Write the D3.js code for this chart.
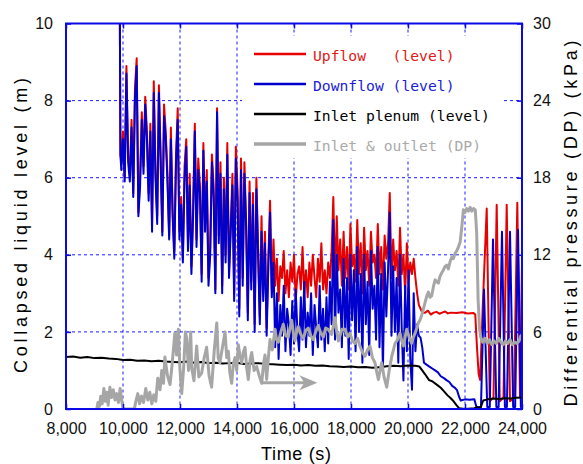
<!DOCTYPE html>
<html>
<head>
<meta charset="utf-8">
<script src="https://cdn.jsdelivr.net/npm/d3@7"></script>
<style>
  body { margin: 0; background: #fff; }
  text { font-family: "Liberation Sans", Arial, sans-serif; }
</style>
</head>
<body>
<svg id="chart" width="583" height="464"></svg>
<script>
// ---- data (time in s, level in m, DP in kPa) ----
const xTicks = [8000, 10000, 12000, 14000, 16000, 18000, 20000, 22000, 24000];
const levelTicks = [0, 2, 4, 6, 8, 10];
const dpTicks = [0, 6, 12, 18, 24, 30];

// oscillating part of the two level signals, sampled every 60 s from 9940 s
const noisyStart = 9940, noisyStep = 60;
const upflowNoisy = [
  6.4, 7.2, 6.0, 8.9, 6.6, 6.1, 7.5, 5.6, 8.3, 9.1,
  5.1, 6.0, 7.7, 6.3, 8.1, 7.2, 5.6, 7.4, 4.8, 8.5,
  6.2, 5.0, 8.4, 6.6, 4.6, 7.9, 7.2, 6.1, 4.5, 7.3,
  5.2, 4.1, 6.6, 7.8, 4.6, 5.5, 3.9, 6.3, 7.0, 4.3,
  6.1, 3.7, 5.2, 7.4, 4.4, 6.5, 5.8, 3.5, 6.9, 4.8,
  6.2, 3.4, 4.2, 6.6, 5.8, 3.1, 7.8, 4.5, 6.4, 3.2,
  6.0, 4.0, 6.9, 3.6, 4.8, 6.1, 3.0, 6.8, 5.7, 2.6,
  6.5, 3.4, 6.4, 4.9, 2.5, 5.9, 3.3, 5.6, 2.2, 6.0,
  4.2, 2.4, 5.0, 3.0, 4.6, 2.1, 3.9, 5.4, 3.1, 4.4,
  3.2, 3.9, 2.8, 3.7, 3.4, 4.1, 3.0, 3.6, 2.9, 3.8,
  3.3, 4.0, 2.8, 3.5, 3.7, 3.1, 4.2, 3.0, 3.6, 2.9,
  3.8, 3.2, 4.0, 3.4, 2.9, 3.9, 3.3, 4.3, 3.1, 3.6,
  3.0, 3.8, 3.4, 4.1, 5.5, 3.3, 5.0, 3.6, 4.4, 3.2,
  4.6, 3.4, 4.2, 3.1, 4.8, 3.7, 4.0, 3.3, 4.9, 3.5,
  4.3, 3.0, 4.7, 3.6, 4.1, 3.2, 4.6, 3.8, 4.0, 3.4,
  4.8, 3.5, 4.2, 3.1, 4.5, 3.9, 4.3, 5.6, 3.4, 4.4,
  3.6, 4.1, 3.2, 4.7, 3.5, 4.0, 3.0, 4.3, 3.3, 3.8,
  3.5, 3.9, 3.4, 3.0, 2.7
];
const downflowNoisy = [
  6.2, 7.0, 5.9, 8.7, 6.4, 5.9, 7.3, 5.5, 8.1, 8.9,
  5.0, 5.8, 7.5, 6.1, 7.9, 7.0, 5.4, 7.2, 4.6, 8.2,
  6.0, 4.8, 8.2, 6.4, 4.5, 7.6, 7.0, 5.9, 4.4, 7.0,
  5.0, 3.9, 6.4, 7.5, 4.4, 5.3, 3.8, 6.0, 6.8, 4.1,
  5.8, 3.5, 5.0, 7.2, 4.2, 6.2, 5.6, 3.3, 6.7, 4.6,
  5.9, 3.2, 4.0, 6.4, 5.5, 3.0, 7.7, 4.3, 6.1, 3.0,
  5.7, 3.8, 6.6, 3.4, 4.6, 5.8, 2.8, 6.5, 5.4, 2.4,
  6.2, 3.2, 6.1, 4.7, 2.3, 5.6, 3.1, 5.3, 2.0, 5.7,
  4.0, 2.2, 4.6, 2.8, 4.3, 1.9, 3.7, 5.1, 2.9, 3.8,
  1.6, 3.0, 1.3, 2.7, 1.9, 3.2, 1.5, 2.6, 2.2, 1.4,
  2.8, 1.7, 3.1, 2.0, 1.5, 2.9, 1.8, 3.3, 1.6, 2.5,
  1.9, 3.0, 1.4, 2.7, 2.1, 1.6, 3.2, 1.8, 2.6, 1.5,
  2.9, 1.7, 3.3, 2.2, 4.9, 1.8, 4.0, 2.5, 3.1, 1.6,
  3.9, 1.9, 3.4, 1.3, 4.0, 2.3, 3.6, 1.5, 4.2, 2.0,
  3.5, 1.2, 4.0, 2.2, 3.3, 1.4, 4.1, 2.6, 3.2, 1.8,
  4.2, 1.6, 3.5, 1.0, 3.8, 2.4, 3.6, 5.1, 1.9, 3.7,
  2.0, 3.4, 1.2, 4.0, 2.1, 0.74, 3.2, 1.5, 3.6, 1.3,
  0.5, 3.0, 1.5, 2.2, 1.9
];

const levelHead = [[9890, 10], [9910, 6.6]];
const upflowTail = [
  [20440, 2.6], [20500, 2.5], [20600, 2.5], [20700, 2.55], [20800, 2.45], [20900, 2.5],
  [21000, 2.52], [21100, 2.47], [21200, 2.5], [21300, 2.53], [21400, 2.48], [21500, 2.5],
  [21700, 2.49], [21900, 2.51], [22100, 2.48], [22300, 2.49], [22360, 2.45], [22420, 1.6],
  [22480, 0.9], [22530, 0.75], [22620, 2.6], [22762, 5.2], [22870, 0.2], [23000, 0.3],
  [23112, 5.3], [23220, 0.2], [23350, 0.3], [23463, 5.3], [23580, 0.2], [23720, 0.3],
  [23835, 5.35], [23930, 0.3], [24000, 3.7]
];
const downflowTail = [
  [20440, 1.85], [20500, 1.6], [20560, 1.2], [20650, 1.15], [20750, 1.1], [20850, 1.05],
  [20950, 1.0], [21050, 0.95], [21150, 0.85], [21260, 0.8], [21350, 0.75], [21450, 0.7],
  [21550, 0.6], [21650, 0.55], [21720, 0.49], [21800, 0.3], [21850, 0.22], [22000, 0.25],
  [22150, 0.24], [22330, 0.25], [22400, 0.05], [22560, 0.05], [22667, 3.1], [22780, 0.05],
  [22870, 0.05], [22982, 4.4], [23100, 0.05], [23180, 0.05], [23298, 4.6], [23400, 0.05],
  [23470, 0.05], [23579, 4.6], [23690, 0.05], [23760, 0.05], [23860, 4.65], [23960, 0.05],
  [24000, 0.5]
];

const inletPlenum = [
  [8000, 1.35], [8250, 1.36], [8500, 1.33], [8750, 1.35], [9000, 1.32], [9250, 1.33],
  [9500, 1.31], [9750, 1.30], [10000, 1.27], [10250, 1.28], [10500, 1.25], [10750, 1.26],
  [11000, 1.24], [11250, 1.25], [11500, 1.23], [11750, 1.22], [12000, 1.21], [12250, 1.23],
  [12500, 1.20], [12750, 1.22], [13000, 1.19], [13250, 1.20], [13500, 1.18], [13750, 1.19],
  [14000, 1.20], [14250, 1.17], [14500, 1.18], [14750, 1.19], [15000, 1.17], [15250, 1.16],
  [15500, 1.15], [15750, 1.14], [16000, 1.15], [16250, 1.13], [16500, 1.14], [16750, 1.12],
  [17000, 1.13], [17250, 1.11], [17500, 1.10], [17750, 1.09], [18000, 1.10], [18250, 1.08],
  [18500, 1.09], [18750, 1.07], [19000, 1.08], [19250, 1.11], [19500, 1.12], [19750, 1.11],
  [20000, 1.13], [20250, 1.12], [20400, 1.10], [20500, 1.0], [20600, 0.9], [20740, 0.75],
  [20850, 0.72], [21030, 0.62], [21150, 0.55], [21250, 0.47], [21380, 0.36], [21500, 0.28],
  [21600, 0.2], [21700, 0.1], [21790, 0.02], [22000, 0.0], [22330, 0.02], [22450, 0.05],
  [22530, 0.0], [22640, 0.22], [22800, 0.25], [23000, 0.27], [23200, 0.26], [23400, 0.28],
  [23600, 0.27], [23800, 0.29], [24000, 0.3]
];

const inletOutletDP = [
  [9080, 0], [9120, 0.5], [9170, 0.2], [9220, 1.0], [9270, 0.4], [9330, 1.6], [9380, 0.6],
  [9430, 1.3], [9480, 0.3], [9540, 1.7], [9600, 0.9], [9660, 1.5], [9720, 0.7], [9780, 1.2],
  [9840, 0.5], [9900, 1.6], [9960, 0.6], [10000, 0], [10400, 0], [10450, 0.6], [10520, 1.2],
  [10580, 0.4], [10650, 1.0], [10720, 0.5], [10800, 1.6], [10870, 0.7], [10940, 1.3],
  [11010, 0.4], [11080, 1.1], [11150, 0.6], [11220, 2.4], [11300, 1.5], [11360, 3.0],
  [11420, 2.0], [11470, 4.05], [11560, 2.6], [11650, 1.9], [11720, 3.4], [11820, 5.9],
  [11880, 4.2], [11940, 6.2], [12000, 3.0], [12060, 1.2], [12130, 3.3], [12190, 6.0],
  [12235, 5.5], [12300, 3.0], [12375, 6.0], [12410, 3.2], [12490, 2.2], [12585, 4.9],
  [12660, 2.5], [12760, 2.8], [12850, 4.0], [12935, 4.8], [13020, 2.6], [13110, 1.7],
  [13200, 4.5], [13290, 6.7], [13340, 4.0], [13400, 3.6], [13490, 4.8], [13580, 6.0],
  [13640, 4.0], [13695, 4.5], [13750, 2.8], [13813, 2.0], [13870, 3.5], [13930, 4.0],
  [13990, 3.0], [14046, 5.0], [14100, 4.2], [14165, 3.6], [14220, 4.4], [14281, 4.8],
  [14340, 3.2], [14397, 2.3], [14460, 3.8], [14516, 4.4], [14600, 3.0], [14690, 3.3],
  [14780, 2.6], [14866, 2.0], [14930, 3.5], [14982, 4.2], [15040, 2.3], [15100, 4.0],
  [15158, 5.4], [15240, 4.6], [15333, 6.2], [15390, 5.4], [15450, 5.2], [15540, 6.0],
  [15625, 6.6], [15710, 5.7], [15800, 5.6], [15860, 6.3], [15920, 6.9], [15980, 5.9],
  [16035, 5.3], [16090, 6.0], [16150, 6.4], [16240, 5.8], [16330, 5.5], [16410, 6.1],
  [16500, 6.3], [16590, 5.7], [16680, 5.4], [16760, 6.0], [16850, 6.5], [16940, 5.9],
  [17030, 5.6], [17110, 6.3], [17200, 6.2], [17320, 5.8], [17440, 7.1], [17500, 6.0],
  [17560, 5.3], [17680, 6.2], [17790, 6.2], [17880, 5.6], [17965, 5.9], [18050, 5.3],
  [18140, 5.1], [18230, 5.5], [18316, 4.9], [18400, 4.4], [18491, 4.1], [18580, 4.6],
  [18667, 4.9], [18750, 4.0], [18842, 3.6], [18900, 2.9], [18960, 2.3], [19020, 3.0],
  [19077, 3.6], [19160, 2.5], [19253, 1.7], [19340, 3.0], [19430, 4.1], [19490, 4.6],
  [19546, 5.1], [19630, 5.4], [19722, 5.9], [19780, 5.3], [19840, 4.9], [19900, 5.6],
  [19955, 6.2], [20040, 5.6], [20130, 5.1], [20190, 5.6], [20250, 5.9], [20310, 6.3],
  [20365, 6.7], [20420, 6.9], [20480, 7.3], [20540, 7.8], [20600, 8.3], [20660, 8.8],
  [20715, 9.1], [20770, 8.7], [20830, 8.8], [20890, 9.5], [20950, 10.05], [21010, 9.9],
  [21066, 9.8], [21120, 10.3], [21183, 10.6], [21240, 10.8], [21300, 11.1], [21360, 11.2],
  [21417, 10.9], [21480, 11.5], [21535, 11.8], [21590, 11.7], [21650, 12.1], [21710, 12.3],
  [21768, 12.6], [21830, 13.0], [21885, 14.1], [21943, 15.5], [22000, 15.3], [22060, 15.6],
  [22120, 15.4], [22180, 15.7], [22240, 15.4], [22300, 15.6], [22360, 15.5], [22410, 13.7],
  [22460, 8.5], [22510, 6.3], [22550, 5.6], [22620, 5.2], [22700, 5.5], [22780, 5.1],
  [22860, 5.4], [22940, 5.0], [23020, 5.3], [23100, 5.1], [23180, 5.5], [23260, 5.2],
  [23340, 5.0], [23420, 5.3], [23500, 5.1], [23580, 5.4], [23660, 5.0], [23740, 5.2],
  [23820, 5.1], [23900, 5.3], [23960, 5.7], [24000, 5.5]
];

// arrow pointing to the right (DP axis): start/end time and level
const arrowSpan = { from: 14850, to: 16820, level: 0.68 };

const legendNames = ["Upflow   (level)", "Downflow (level)", "Inlet plenum (level)", "Inlet & outlet (DP)"];
const legendColors = ["#e60000", "#0000cd", "#000000", "#a6a6a6"];
const legendTextColors = ["#e01818", "#1c1cd8", "#000000", "#aaaaaa"];

// ---- layout ----
const svg = d3.select("#chart");
const pLeft = 66, pRight = 522, pTop = 23.5, pBottom = 409;
const frameBlue = "#0a0ae6";

const x = d3.scaleLinear().domain([8000, 24000]).range([pLeft, pRight]);
const yL = d3.scaleLinear().domain([0, 10]).range([pBottom, pTop]);
const yR = d3.scaleLinear().domain([0, 30]).range([pBottom, pTop]);

svg.append("rect").attr("width", 583).attr("height", 464).attr("fill", "#fff");

svg.append("defs").append("clipPath").attr("id", "plot")
  .append("rect").attr("x", pLeft).attr("y", pTop).attr("width", pRight - pLeft).attr("height", pBottom - pTop);

// grid
const grid = svg.append("g").attr("stroke", "#1a1aff").attr("stroke-width", 1).attr("stroke-dasharray", "3,3");
grid.selectAll(".gx").data(xTicks.slice(1, -1)).enter().append("line")
  .attr("x1", d => x(d)).attr("x2", d => x(d)).attr("y1", pTop).attr("y2", pBottom);
grid.selectAll(".gy").data(levelTicks.slice(1, -1)).enter().append("line")
  .attr("y1", d => yL(d)).attr("y2", d => yL(d)).attr("x1", pLeft).attr("x2", pRight);

// series
const toPairs = arr => arr.map((v, i) => [noisyStart + i * noisyStep, v]);
const upflow = levelHead.concat(toPairs(upflowNoisy), upflowTail);
const downflow = levelHead.concat(toPairs(downflowNoisy), downflowTail);

const lineL = d3.line().x(d => x(d[0])).y(d => yL(d[1]));
const lineR = d3.line().x(d => x(d[0])).y(d => yR(d[1]));

const plot = svg.append("g").attr("clip-path", "url(#plot)");
plot.append("path").datum(upflow).attr("d", lineL)
  .attr("fill", "none").attr("stroke", legendColors[0]).attr("stroke-width", 2).attr("stroke-linejoin", "round");
plot.append("path").datum(downflow).attr("d", lineL)
  .attr("fill", "none").attr("stroke", legendColors[1]).attr("stroke-width", 2).attr("stroke-linejoin", "round");
plot.append("path").datum(inletPlenum).attr("d", lineL)
  .attr("fill", "none").attr("stroke", legendColors[2]).attr("stroke-width", 2).attr("stroke-linejoin", "round");
plot.append("path").datum(inletOutletDP).attr("d", lineR)
  .attr("fill", "none").attr("stroke", legendColors[3]).attr("stroke-width", 3).attr("stroke-linejoin", "round");

// arrow
const ax0 = x(arrowSpan.from), ax1 = x(arrowSpan.to), ay = yL(arrowSpan.level);
svg.append("line").attr("x1", ax0).attr("x2", ax1 - 6).attr("y1", ay).attr("y2", ay)
  .attr("stroke", "#a6a6a6").attr("stroke-width", 3);
svg.append("path")
  .attr("d", `M${ax1},${ay} L${ax1 - 18},${ay - 7.5} L${ax1 - 13},${ay} L${ax1 - 18},${ay + 7.5} Z`)
  .attr("fill", "#a6a6a6");

// legend
svg.append("rect").attr("x", 242).attr("y", 36).attr("width", 261).attr("height", 122).attr("fill", "#fff");
const leg = svg.append("g").selectAll("g").data(legendNames).enter().append("g")
  .attr("transform", (d, i) => `translate(254,${54 + i * 30})`);
leg.append("line").attr("x1", 0).attr("x2", 52).attr("y1", 0).attr("y2", 0)
  .attr("stroke", (d, i) => legendColors[i]).attr("stroke-width", (d, i) => i === 3 ? 3.5 : 2.5);
leg.append("text").attr("x", 59).attr("y", 6.5)
  .style("font-family", "'DejaVu Sans Mono', 'Liberation Mono', monospace")
  .style("font-size", "14.7px").style("white-space", "pre")
  .attr("fill", (d, i) => legendTextColors[i]).text(d => d);

// axes (ticks inward)
function styleAxis(g) {
  g.select(".domain").remove();
  g.selectAll(".tick line").attr("stroke", frameBlue).attr("stroke-width", 1.5);
  g.selectAll(".tick text").attr("fill", "#111").style("font-size", "16px")
    .style("font-family", "'Liberation Sans', Arial, sans-serif");
}
svg.append("g").attr("transform", `translate(0,${pBottom})`)
  .call(d3.axisBottom(x).tickValues(xTicks).tickFormat(d3.format(",")).tickSize(-5).tickPadding(14))
  .call(styleAxis);
svg.append("g").attr("transform", `translate(0,${pTop})`)
  .call(d3.axisTop(x).tickValues(xTicks).tickFormat("").tickSize(-5))
  .call(styleAxis);
svg.append("g").attr("transform", `translate(${pLeft},0)`)
  .call(d3.axisLeft(yL).tickValues(levelTicks).tickFormat(d3.format("d")).tickSize(-5).tickPadding(13))
  .call(styleAxis);
svg.append("g").attr("transform", `translate(${pRight},0)`)
  .call(d3.axisRight(yR).tickValues(dpTicks).tickFormat(d3.format("d")).tickSize(-5).tickPadding(11))
  .call(styleAxis);

// frame
svg.append("rect").attr("x", pLeft).attr("y", pTop).attr("width", pRight - pLeft).attr("height", pBottom - pTop)
  .attr("fill", "none").attr("stroke", frameBlue).attr("stroke-width", 2);

// titles
svg.append("text").attr("transform", `translate(27,225.5) rotate(-90)`)
  .attr("text-anchor", "middle").style("font-size", "18px")
  .attr("textLength", 295).attr("lengthAdjust", "spacing")
  .text("Collapsed liquid level (m)");
svg.append("text").attr("transform", `translate(577,223.5) rotate(-90)`)
  .attr("text-anchor", "middle").style("font-size", "18px")
  .attr("textLength", 366).attr("lengthAdjust", "spacing")
  .text("Differential pressure (DP) (kPa)");
svg.append("text").attr("x", 296).attr("y", 460)
  .attr("text-anchor", "middle").style("font-size", "18px")
  .attr("textLength", 70).attr("lengthAdjust", "spacing")
  .text("Time (s)");
</script>
</body>
</html>
